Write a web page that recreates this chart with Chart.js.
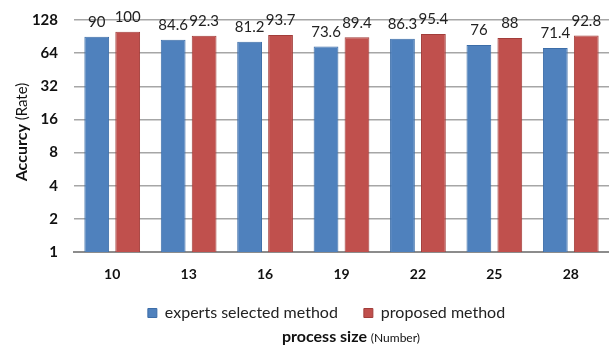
<!DOCTYPE html>
<html>
<head>
<meta charset="utf-8">
<script src="https://cdn.jsdelivr.net/npm/chart.js@4"></script>
<style>
  html, body { margin: 0; padding: 0; background: #fff; }
  canvas { display: block; }
</style>
</head>
<body>
<canvas id="chart" width="609" height="351"></canvas>
<script>
const categories = ["10", "13", "16", "19", "22", "25", "28"];
const expertsValues = [90, 84.6, 81.2, 73.6, 86.3, 76, 71.4];
const proposedValues = [100, 92.3, 93.7, 89.4, 95.4, 88, 92.8];
const yTicks = [1, 2, 4, 8, 16, 32, 64, 128];

const fontName = "Lato, 'Open Sans', sans-serif";

// numbers above the bars
const barLabels = {
  id: "barLabels",
  afterDatasetsDraw(chart) {
    const ctx = chart.ctx;
    ctx.save();
    ctx.font = "15px " + fontName;
    ctx.fillStyle = "#222";
    ctx.textAlign = "center";
    ctx.textBaseline = "bottom";
    chart.data.datasets.forEach((ds, i) => {
      chart.getDatasetMeta(i).data.forEach((bar, j) => {
        ctx.fillText(String(ds.data[j]), bar.x, bar.y - 7);
      });
    });
    ctx.restore();
  }
};

// axis titles with mixed bold / normal text
const axisTitles = {
  id: "axisTitles",
  afterLayout(chart) {
    // legend sits a bit right of the canvas centre in the original
    chart.legend.left += 22;
    chart.legend.right += 22;
    chart.legend.top -= 9;
    chart.legend.bottom -= 9;
  },
  afterDraw(chart) {
    const ctx = chart.ctx;
    ctx.save();
    ctx.fillStyle = "#111";
    ctx.textBaseline = "middle";

    // x title
    const boldX = "bold 16px " + fontName;
    const normX = "12px " + fontName;
    ctx.font = boldX;
    const w1 = ctx.measureText("process size ").width;
    ctx.font = normX;
    const w2 = ctx.measureText("(Number)").width;
    let x = 351 - (w1 + w2) / 2;
    ctx.textAlign = "left";
    ctx.font = boldX;
    ctx.fillText("process size ", x, 337);
    ctx.font = normX;
    ctx.fillText("(Number)", x + w1, 338);

    // y title
    ctx.translate(22, 132);
    ctx.rotate(-Math.PI / 2);
    const boldY = "bold 16px " + fontName;
    const normY = "15px " + fontName;
    ctx.font = boldY;
    const a = ctx.measureText("Accurcy ").width;
    ctx.font = normY;
    const b = ctx.measureText("(Rate)").width;
    x = -(a + b) / 2;
    ctx.font = boldY;
    ctx.fillText("Accurcy ", x, 0);
    ctx.font = normY;
    ctx.fillText("(Rate)", x + a, 0);
    ctx.restore();
  }
};

new Chart(document.getElementById("chart"), {
  type: "bar",
  data: {
    labels: categories,
    datasets: [
      {
        label: "experts selected method",
        data: expertsValues,
        backgroundColor: "#4F81BD",
        borderColor: "#3C6DA8",
        borderWidth: 1
      },
      {
        label: "proposed method",
        data: proposedValues,
        backgroundColor: "#C0504D",
        borderColor: "#A23D3A",
        borderWidth: 1
      }
    ]
  },
  options: {
    responsive: false,
    animation: false,
    devicePixelRatio: 1,
    categoryPercentage: 0.81,
    barPercentage: 0.8,
    layout: { padding: { top: 20, left: 0, right: 0, bottom: 11 } },
    plugins: {
      tooltip: { enabled: false },
      legend: {
        position: "bottom",
        labels: {
          boxWidth: 9,
          boxHeight: 9,
          padding: 26,
          color: "#222",
          font: { family: fontName, size: 16 }
        }
      }
    },
    scales: {
      x: {
        grid: { display: false, drawTicks: false },
        border: { display: true, color: "#8c8c8c", width: 2 },
        ticks: {
          padding: 14,
          color: "#111",
          font: { family: fontName, size: 14, weight: "bold" }
        },
        afterFit(scale) {
          scale.height = 36;
          scale.paddingLeft = 0;
          scale.paddingRight = 0;
        }
      },
      y: {
        type: "logarithmic",
        min: 1,
        max: 128,
        afterBuildTicks(scale) {
          scale.ticks = yTicks.map(v => ({ value: v }));
        },
        afterFit(scale) {
          scale.width = 74;
          scale.paddingTop = 0;
          scale.paddingBottom = 0;
        },
        grid: { color: "#a6a6a6", lineWidth: 1.5, drawTicks: false },
        border: { display: false },
        ticks: {
          padding: 16,
          color: "#111",
          font: { family: fontName, size: 15, weight: "bold" },
          callback: v => String(v)
        }
      }
    }
  },
  plugins: [barLabels, axisTitles]
});
</script>
</body>
</html>
